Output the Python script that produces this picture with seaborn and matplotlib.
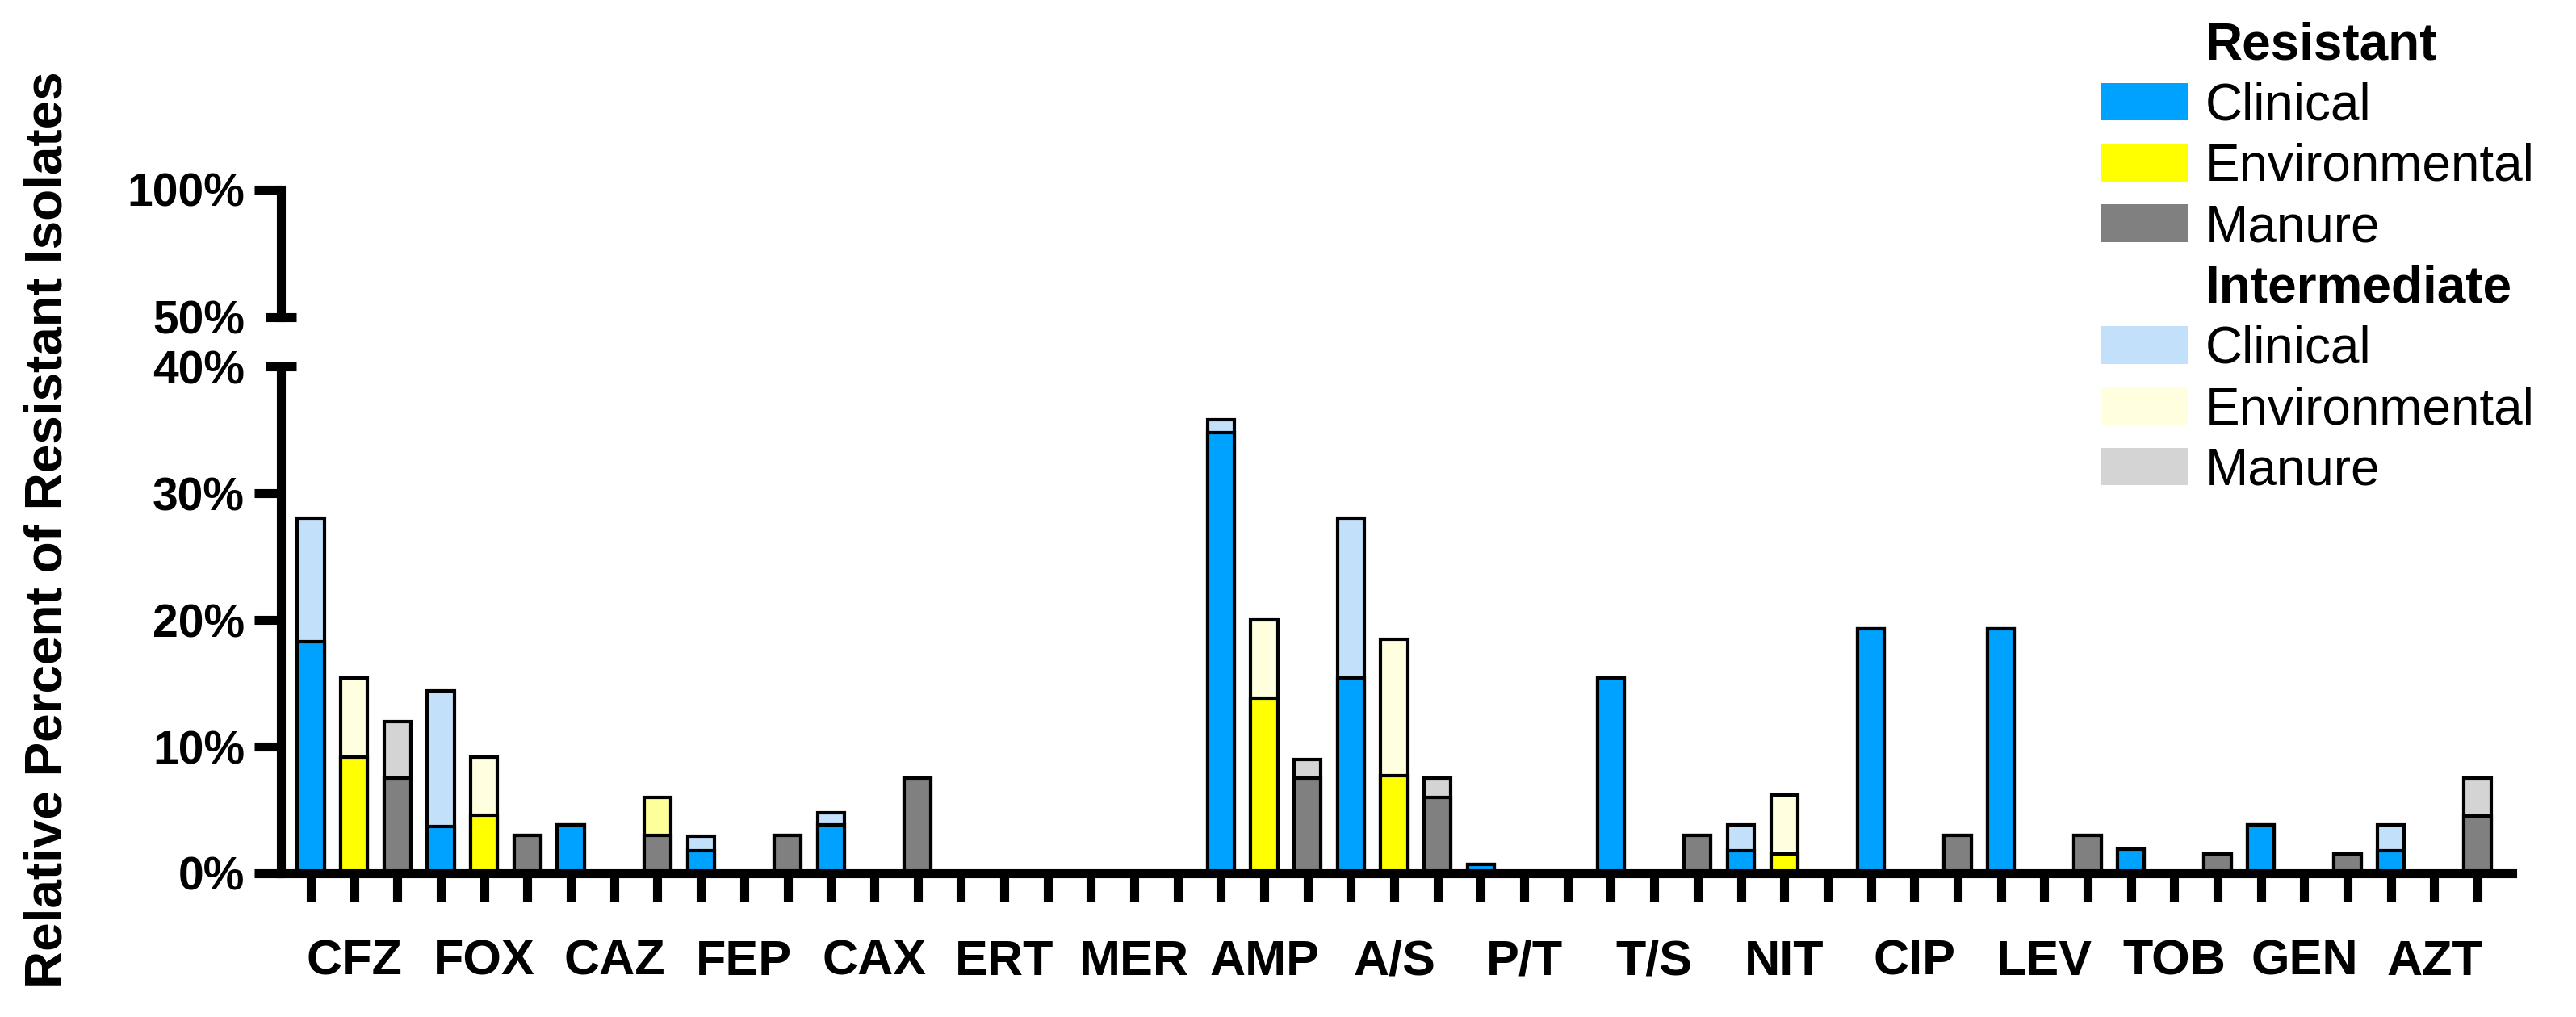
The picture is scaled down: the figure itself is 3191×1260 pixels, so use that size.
import pandas as pd
import matplotlib
matplotlib.use('Agg')
import matplotlib.pyplot as plt
import seaborn as sns
from matplotlib.patches import Patch
from matplotlib.ticker import FixedLocator, FixedFormatter

'''
Relative percent of resistant / intermediate isolates per antibiotic,
stacked bars for clinical, environmental and manure sources on a broken y axis.
'''

# Style Setting
sns.set_style("ticks")
plt.rcParams['font.family'] = ['Liberation Sans', 'DejaVu Sans']
plt.rcParams['font.weight'] = 'bold'
plt.rcParams.update({'text.color': 'black', 'axes.labelcolor': 'black',
                     'xtick.color': 'black', 'ytick.color': 'black'})

### Data (percent) ###
antibiotics = ['CFZ', 'FOX', 'CAZ', 'FEP', 'CAX', 'ERT', 'MER', 'AMP', 'A/S',
               'P/T', 'T/S', 'NIT', 'CIP', 'LEV', 'TOB', 'GEN', 'AZT']
sources = ['Clinical', 'Environmental', 'Manure']

clinical_res = [18.3, 3.7, 3.8, 1.8, 3.8, 0, 0, 34.8, 15.4, 0.7, 15.4, 1.8, 19.3, 19.3, 1.9, 3.8, 1.8]
clinical_int = [9.7, 10.7, 0, 1.1, 1.0, 0, 0, 1.0, 12.6, 0, 0, 2.0, 0, 0, 0, 0, 2.0]
environmental_res = [9.2, 4.6, 0, 0, 0, 0, 0, 13.8, 7.7, 0, 0, 1.5, 0, 0, 0, 0, 0]
environmental_int = [6.2, 4.6, 0, 0, 0, 0, 0, 6.2, 10.8, 0, 0, 4.7, 0, 0, 0, 0, 0]
manure_res = [7.5, 3.0, 3.0, 3.0, 7.5, 0, 0, 7.5, 6.0, 0, 3.0, 0, 3.0, 3.0, 1.5, 1.5, 4.5]
manure_int = [4.5, 0, 3.0, 0, 0, 0, 0, 1.5, 1.5, 0, 0, 0, 0, 0, 0, 0, 3.0]

### Colors ###
colors_res = {'Clinical': '#00A2FF', 'Environmental': '#FFFF00', 'Manure': '#808080'}
colors_int = {'Clinical': '#C2E0F9', 'Environmental': '#FFFFE0', 'Manure': '#D4D4D4'}
# one segment in the original is filled with a stronger yellow
odd_int_color = {('CAZ', 'Manure'): '#FFFF99'}

# build long table, one row per bar
res_lists = {'Clinical': clinical_res, 'Environmental': environmental_res, 'Manure': manure_res}
int_lists = {'Clinical': clinical_int, 'Environmental': environmental_int, 'Manure': manure_int}
rows = []
for g, ab in enumerate(antibiotics):
    for k, src in enumerate(sources):
        r = res_lists[src][g]
        i = int_lists[src][g]
        rows.append({'pos': 3 * g + k, 'antibiotic': ab, 'source': src,
                     'res': r, 'total': r + i,
                     'res_color': colors_res[src],
                     'int_color': odd_int_color.get((ab, src), colors_int[src])})
df = pd.DataFrame(rows)

n_bars = len(df)
xlim = (-0.69, n_bars - 1 + 0.8)
lw_axis = 8


def draw_bars(ax):
    # intermediate (full height) first, resistant part on top of it
    sns.barplot(data=df, x='pos', y='total', hue='pos', palette=dict(zip(df['pos'], df['int_color'])),
                native_scale=True, width=0.62, saturation=1, errorbar=None,
                edgecolor='black', linewidth=3, legend=False, ax=ax)
    sns.barplot(data=df, x='pos', y='res', hue='pos', palette=dict(zip(df['pos'], df['res_color'])),
                native_scale=True, width=0.62, saturation=1, errorbar=None,
                edgecolor='black', linewidth=3, legend=False, ax=ax)
    ax.set_xlim(*xlim)
    ax.set_xlabel('')
    ax.set_ylabel('')


fig = plt.figure(figsize=(31.91, 12.6), dpi=100)
ax_lo = fig.add_axes([0.10906, 0.14127, 0.8662, 0.49841])
ax_hi = fig.add_axes([0.10906, 0.68810, 0.8662, 0.12540])

for ax in (ax_lo, ax_hi):
    draw_bars(ax)
    ax.set_facecolor('none')

# lower part 0-40 %
ax_lo.set_ylim(0, 40)
ax_lo.yaxis.set_major_locator(FixedLocator([0, 10, 20, 30]))
ax_lo.yaxis.set_major_formatter(FixedFormatter(['0%', '10%', '20%', '30%']))
ax_lo.yaxis.set_minor_locator(FixedLocator([40]))
ax_lo.yaxis.set_minor_formatter(FixedFormatter(['40%']))

xlabels = [''] * n_bars
for g, ab in enumerate(antibiotics):
    xlabels[3 * g + 1] = ab
ax_lo.xaxis.set_major_locator(FixedLocator(list(range(n_bars))))
ax_lo.xaxis.set_major_formatter(FixedFormatter(xlabels))
ax_lo.tick_params(axis='x', direction='out', length=25, width=lw_axis, pad=34, labelsize=44,
                  color='black', labelcolor='black')
sns.despine(ax=ax_lo)

# upper part 50-100 %
ax_hi.set_ylim(50, 100)
ax_hi.yaxis.set_major_locator(FixedLocator([100]))
ax_hi.yaxis.set_major_formatter(FixedFormatter(['100%']))
ax_hi.yaxis.set_minor_locator(FixedLocator([50]))
ax_hi.yaxis.set_minor_formatter(FixedFormatter(['50%']))
ax_hi.tick_params(axis='x', bottom=False, labelbottom=False)
sns.despine(ax=ax_hi, bottom=True)

for ax in (ax_lo, ax_hi):
    ax.tick_params(axis='y', which='major', direction='out', length=24, width=lw_axis,
                   pad=8.4, labelsize=41, color='black', labelcolor='black')
    # break marks drawn as cross ticks
    ax.tick_params(axis='y', which='minor', direction='inout', length=27, width=lw_axis,
                   pad=19, labelsize=41, color='black', labelcolor='black')
    for side in ('left', 'bottom'):
        ax.spines[side].set_linewidth(lw_axis)
        ax.spines[side].set_color('black')

# y label
fig.text(60 / 3191, 1 - 656 / 1260, 'Relative Percent of Resistant Isolates',
         rotation=90, ha='center', va='center', fontsize=46, fontweight='bold', color='black')

# legend with two header rows
blank = Patch(facecolor='none', edgecolor='none')
handles = [blank] + [Patch(facecolor=colors_res[s], edgecolor='none') for s in sources] + \
          [blank] + [Patch(facecolor=colors_int[s], edgecolor='none') for s in sources]
labels = ['Resistant'] + sources + ['Intermediate'] + sources
leg = fig.legend(handles, labels, loc='upper left', bbox_to_anchor=(2603 / 3191, 1 - 26 / 1260),
                 frameon=False, fontsize=46, handlelength=1.67, handleheight=0.75,
                 handletextpad=0.35, labelspacing=0.24, borderpad=0, borderaxespad=0)
for t in leg.get_texts():
    t.set_color('black')
    if t.get_text() not in ('Resistant', 'Intermediate'):
        t.set_fontweight('normal')

fig.savefig('out.png', dpi=100)
